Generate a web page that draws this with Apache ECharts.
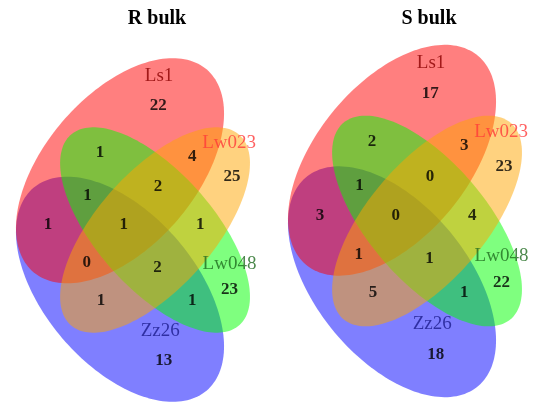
<!DOCTYPE html>
<html>
<head>
<meta charset="utf-8">
<script src="https://cdn.jsdelivr.net/npm/echarts@6/dist/echarts.min.js"></script>
<style>
  html, body { margin: 0; padding: 0; background: #fff; }
  #main { width: 533px; height: 406px; }
</style>
</head>
<body>
<div id="main"></div>
<script>
// ---- data ----
var panelTitles = ['R bulk', 'S bulk']
var setNames = ['Ls1', 'Lw023', 'Lw048', 'Zz26']
var regionNames = [
  'Ls1', 'Lw023', 'Lw048', 'Zz26',
  'Ls1&Lw023', 'Ls1&Lw048', 'Ls1&Zz26', 'Lw023&Lw048', 'Lw023&Zz26', 'Lw048&Zz26',
  'Ls1&Lw023&Lw048', 'Ls1&Lw023&Zz26', 'Ls1&Lw048&Zz26', 'Lw023&Lw048&Zz26',
  'Ls1&Lw023&Lw048&Zz26'
]
var rBulk = [22, 25, 23, 13, 4, 1, 1, 1, 1, 1, 2, 0, 1, 2, 1]
var sBulk = [17, 23, 22, 18, 3, 2, 3, 4, 5, 1, 0, 1, 1, 1, 0]

// ---- layout (venn unit space, y up) ----
var ellipses = {
  Ls1: { cx: 0, cy: 0.15, a: 0.35, b: 0.2, rot: 45, fill: 'rgba(255,0,0,0.5)', text: '#8b0000', lx: 0.107, ly: 0.39 },
  Lw023: { cx: 0.096, cy: 0, a: 0.334, b: 0.154, rot: 45, fill: 'rgba(255,165,0,0.5)', text: '#ff3a3a', lx: 0.299, ly: 0.219 },
  Lw048: { cx: 0.096, cy: 0, a: 0.334, b: 0.154, rot: -45, fill: 'rgba(0,255,0,0.5)', text: '#1f6b1f', lx: 0.3, ly: -0.087 },
  Zz26: { cx: 0, cy: -0.15, a: 0.35, b: 0.2, rot: -45, fill: 'rgba(0,0,255,0.5)', text: '#1c1c8c', lx: 0.11, ly: -0.255 }
}
var drawOrder = ['Zz26', 'Ls1', 'Lw048', 'Lw023']
var regionPos = [
  [0.105, 0.315], [0.307, 0.135], [0.3, -0.152], [0.12, -0.33],
  [0.198, 0.187], [-0.055, 0.195], [-0.197, 0.014], [0.22, 0.014], [-0.052, -0.178], [0.198, -0.178],
  [0.104, 0.11], [-0.091, -0.083], [-0.089, 0.087], [0.103, -0.094],
  [0.01, 0.014]
]
var grids = [
  { left: 10.5, top: 32.5, width: 255.5, height: 395, outerBoundsMode: 'none', containLabel: false },
  { left: 282.5, top: 18.5, width: 255.5, height: 405, outerBoundsMode: 'none', containLabel: false }
]

var myChart = echarts.init(document.getElementById('main'))

function ellipsePoints (e, api) {
  var pts = []
  var th = e.rot * Math.PI / 180
  for (var k = 0; k < 180; k++) {
    var t = k / 180 * Math.PI * 2
    var x = e.cx + e.a * Math.cos(t) * Math.cos(th) - e.b * Math.sin(t) * Math.sin(th)
    var y = e.cy + e.a * Math.cos(t) * Math.sin(th) + e.b * Math.sin(t) * Math.cos(th)
    pts.push(api.coord([x, y]))
  }
  return pts
}

var xAxis = []
var yAxis = []
var series = []
var titles = []
var counts = [rBulk, sBulk]

grids.forEach(function (g, p) {
  xAxis.push({ gridIndex: p, type: 'value', min: -0.3, max: 0.4, show: false })
  yAxis.push({ gridIndex: p, type: 'value', min: -0.5, max: 0.5, show: false })
  titles.push({
    text: panelTitles[p],
    left: g.left + 109.5 + 32,
    top: 4,
    textAlign: 'center',
    textStyle: { fontFamily: 'Liberation Serif', fontWeight: 'bold', fontSize: 20, color: '#000' }
  })

  series.push({
    type: 'custom',
    xAxisIndex: p,
    yAxisIndex: p,
    silent: true,
    z: 1,
    data: drawOrder.map(function (name, i) {
      return [ellipses[name].cx, ellipses[name].cy, i]
    }),
    renderItem: function (params, api) {
      var e = ellipses[drawOrder[api.value(2)]]
      return {
        type: 'polygon',
        shape: { points: ellipsePoints(e, api) },
        style: { fill: e.fill, stroke: null }
      }
    }
  })

  series.push({
    type: 'scatter',
    xAxisIndex: p,
    yAxisIndex: p,
    silent: true,
    z: 5,
    symbolSize: 0,
    data: regionNames.map(function (name, i) {
      return { name: name, value: [regionPos[i][0], regionPos[i][1], counts[p][i]] }
    }),
    label: {
      show: true,
      position: 'inside',
      formatter: function (d) { return d.value[2] },
      fontFamily: 'Liberation Serif',
      fontWeight: 'bold',
      fontSize: 17,
      color: '#000'
    }
  })

  series.push({
    type: 'scatter',
    xAxisIndex: p,
    yAxisIndex: p,
    silent: true,
    z: 5,
    symbolSize: 0,
    data: setNames.map(function (name) {
      var e = ellipses[name]
      return {
        name: name,
        value: [e.lx, e.ly],
        label: { color: e.text }
      }
    }),
    label: {
      show: true,
      position: 'inside',
      formatter: '{b}',
      fontFamily: 'Liberation Serif',
      fontSize: 19
    }
  })
})

var option = {
  backgroundColor: '#fff',
  animation: false,
  title: titles,
  grid: grids,
  xAxis: xAxis,
  yAxis: yAxis,
  series: series
}
myChart.setOption(option)
</script>
</body>
</html>
